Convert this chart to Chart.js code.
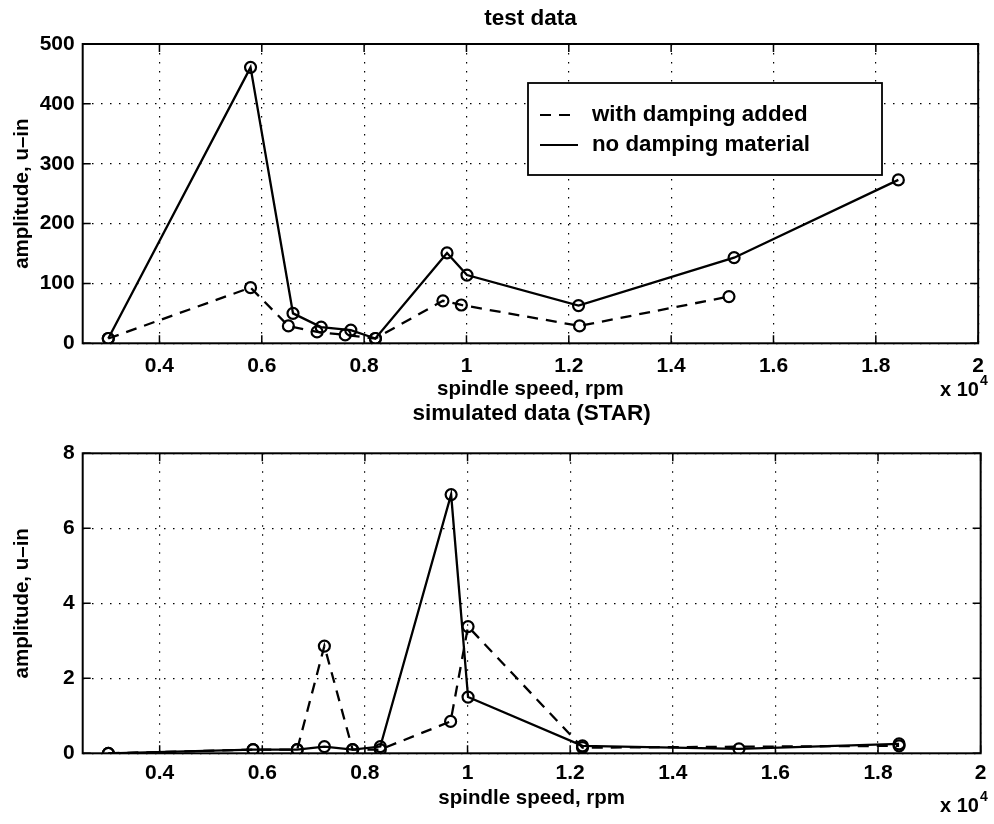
<!DOCTYPE html>
<html><head><meta charset="utf-8">
<script src="https://cdn.jsdelivr.net/npm/chart.js@4/dist/chart.umd.min.js"></script>
<style>
html,body{margin:0;padding:0;background:#fff;width:994px;height:824px;overflow:hidden;}
canvas{position:absolute;left:0;}
#c1{top:0;} #c2{top:400px;}
</style></head><body>
<canvas id="c1" width="994" height="410"></canvas>
<canvas id="c2" width="994" height="424"></canvas>
<script>
// ---- data (spindle speed in units of 10^4 rpm) ----
const xTicks = [0.4, 0.6, 0.8, 1, 1.2, 1.4, 1.6, 1.8, 2];
const xExponent = '4';
const topYTicks = [0, 100, 200, 300, 400, 500];
const botYTicks = [0, 2, 4, 6, 8];
const seriesLabels = ['with damping added', 'no damping material'];
const titles = ['test data', 'simulated data (STAR)'];
const xLabel = 'spindle speed, rpm';
const yLabel = 'amplitude, u\u2013in';

const testDampedSpeed   = [0.30, 0.578, 0.652, 0.708, 0.763, 0.822, 0.954, 0.990, 1.221, 1.513];
const testDampedAmp     = [8, 93, 29, 19, 14, 8, 71, 64, 29, 78];
const testUndampedSpeed = [0.30, 0.578, 0.661, 0.716, 0.774, 0.822, 0.962, 1.001, 1.219, 1.523, 1.844];
const testUndampedAmp   = [8, 461, 50, 27, 22, 8, 151, 114, 63, 143, 273];

const simDampedSpeed    = [0.30, 0.582, 0.668, 0.721, 0.776, 0.830, 0.967, 1.001, 1.224, 1.841];
const simDampedAmp      = [0.0, 0.1, 0.1, 2.86, 0.1, 0.1, 0.85, 3.38, 0.15, 0.2];
const simUndampedSpeed  = [0.30, 0.582, 0.668, 0.721, 0.776, 0.830, 0.968, 1.001, 1.224, 1.529, 1.841];
const simUndampedAmp    = [0.0, 0.1, 0.1, 0.18, 0.1, 0.18, 6.9, 1.5, 0.2, 0.12, 0.25];

const FONT = '"Liberation Sans", Arial, Helvetica, sans-serif';
Chart.defaults.font.family = FONT;
Chart.defaults.color = '#000';

const pts = (xs, ys) => xs.map((x, i) => ({x: x, y: ys[i]}));

function dataset(label, xs, ys, dash) {
  return {
    label: label, data: pts(xs, ys), showLine: true,
    borderColor: '#000', borderWidth: 2.3, borderDash: dash,
    pointStyle: 'circle', pointRadius: 5.5, pointBorderWidth: 2.2,
    pointBorderColor: '#000', pointBackgroundColor: 'rgba(0,0,0,0)',
    pointHoverRadius: 5.5
  };
}

const framePlugin = {
  id: 'frame',
  afterDraw(chart, args, opts) {
    const {ctx, chartArea: a, scales} = chart;
    ctx.save();
    ctx.setLineDash([]);
    ctx.strokeStyle = '#000';
    ctx.lineWidth = 2;
    ctx.strokeRect(a.left, a.top, a.right - a.left, a.bottom - a.top);
    const tl = 8;
    ctx.lineWidth = 1.5;
    ctx.beginPath();
    scales.x.ticks.forEach(t => {
      const px = scales.x.getPixelForValue(t.value);
      ctx.moveTo(px, a.bottom); ctx.lineTo(px, a.bottom - tl);
      ctx.moveTo(px, a.top); ctx.lineTo(px, a.top + tl);
    });
    scales.y.ticks.forEach(t => {
      const py = scales.y.getPixelForValue(t.value);
      ctx.moveTo(a.left, py); ctx.lineTo(a.left + tl, py);
      ctx.moveTo(a.right, py); ctx.lineTo(a.right - tl, py);
    });
    ctx.stroke();
    // exponent label
    ctx.fillStyle = '#000';
    ctx.textBaseline = 'middle';
    ctx.textAlign = 'left';
    ctx.font = 'bold 20px ' + FONT;
    ctx.fillText('x 10', opts.expX, opts.expY);
    const w = ctx.measureText('x 10').width;
    ctx.font = 'bold 14px ' + FONT;
    ctx.fillText(xExponent, opts.expX + w + 1, opts.expY - 9);
    // legend
    if (opts.legend) {
      const L = opts.legend;
      ctx.fillStyle = '#fff';
      ctx.fillRect(L.left, L.top, L.right - L.left, L.bottom - L.top);
      ctx.strokeStyle = '#000';
      ctx.lineWidth = 1.8;
      ctx.strokeRect(L.left, L.top, L.right - L.left, L.bottom - L.top);
      ctx.font = 'bold 22.3px ' + FONT;
      ctx.fillStyle = '#000';
      L.order.forEach((di, k) => {
        const ds = chart.data.datasets[di];
        const y = L.rowY[k];
        ctx.save();
        ctx.lineWidth = 2;
        ctx.setLineDash(ds.borderDash || []);
        ctx.beginPath();
        ctx.moveTo(L.sampleX0, y); ctx.lineTo(L.sampleX1, y);
        ctx.stroke();
        ctx.restore();
        ctx.fillText(ds.label, L.textX, y);
      });
    }
    ctx.restore();
  }
};

function makeOptions(cfg) {
  return {
    responsive: false, animation: false, devicePixelRatio: 1, events: [],
    layout: {padding: {left: 0, right: 7, top: 0, bottom: cfg.padBottom}},
    plugins: {
      legend: {display: false}, tooltip: {enabled: false},
      title: {display: true, fullSize: false, text: cfg.title, color: '#000',
              font: {size: 22.5, weight: 'bold'}, padding: {top: cfg.titleTop, bottom: cfg.titleBottom}},
      frame: {expX: 940, expY: cfg.expY, legend: cfg.legend}
    },
    scales: {
      x: {
        type: 'linear', min: 0.25, max: 2,
        afterBuildTicks: s => { s.ticks = xTicks.map(v => ({value: v})); },
        afterFit: s => { s.height = 60; },
        grid: {color: '#000', lineWidth: 1.2, drawTicks: false},
        border: {display: false, dash: [1.5, 7.5]},
        ticks: {padding: cfg.xTickPad, autoSkip: false, maxRotation: 0, color: '#000',
                font: {size: 21, weight: 'bold'}, callback: v => String(v)},
        title: {display: true, text: xLabel, color: '#000', font: {size: 20.5, weight: 'bold'},
                padding: {top: 0, bottom: cfg.xTitleBottom}}
      },
      y: {
        type: 'linear', min: cfg.yTicks[0], max: cfg.yTicks[cfg.yTicks.length - 1],
        afterBuildTicks: s => { s.ticks = cfg.yTicks.map(v => ({value: v})); },
        afterFit: s => { s.width = 82.7; },
        grid: {color: '#000', lineWidth: 1.2, drawTicks: false},
        border: {display: false, dash: [1.5, 7.5]},
        ticks: {padding: 8, color: '#000', font: {size: 21, weight: 'bold'}, callback: v => String(v)},
        title: {display: true, text: yLabel, color: '#000', font: {size: 20.5, weight: 'bold'},
                padding: {top: 9.7, bottom: 0}}
      }
    }
  };
}

new Chart(document.getElementById('c1'), {
  type: 'scatter',
  data: {datasets: [
    dataset(seriesLabels[0], testDampedSpeed, testDampedAmp, [11, 8]),
    dataset(seriesLabels[1], testUndampedSpeed, testUndampedAmp, [])
  ]},
  options: makeOptions({
    title: titles[0], titleTop: 5.5, titleBottom: 11.5, padBottom: 6.7,
    xTickPad: 10, xTitleBottom: 2, yTicks: topYTicks, expY: 390,
    legend: {left: 528, top: 83, right: 882, bottom: 175, order: [0, 1],
             rowY: [115, 145], sampleX0: 540, sampleX1: 578, textX: 592}
  }),
  plugins: [framePlugin]
});

new Chart(document.getElementById('c2'), {
  type: 'scatter',
  data: {datasets: [
    dataset(seriesLabels[0], simDampedSpeed, simDampedAmp, [11, 8]),
    dataset(seriesLabels[1], simUndampedSpeed, simUndampedAmp, [])
  ]},
  options: makeOptions({
    title: titles[1], titleTop: 0.5, titleBottom: 25.8, padBottom: 10.7,
    xTickPad: 7.5, xTitleBottom: 3, yTicks: botYTicks, expY: 406,
    legend: null
  }),
  plugins: [framePlugin]
});
</script>
</body></html>
